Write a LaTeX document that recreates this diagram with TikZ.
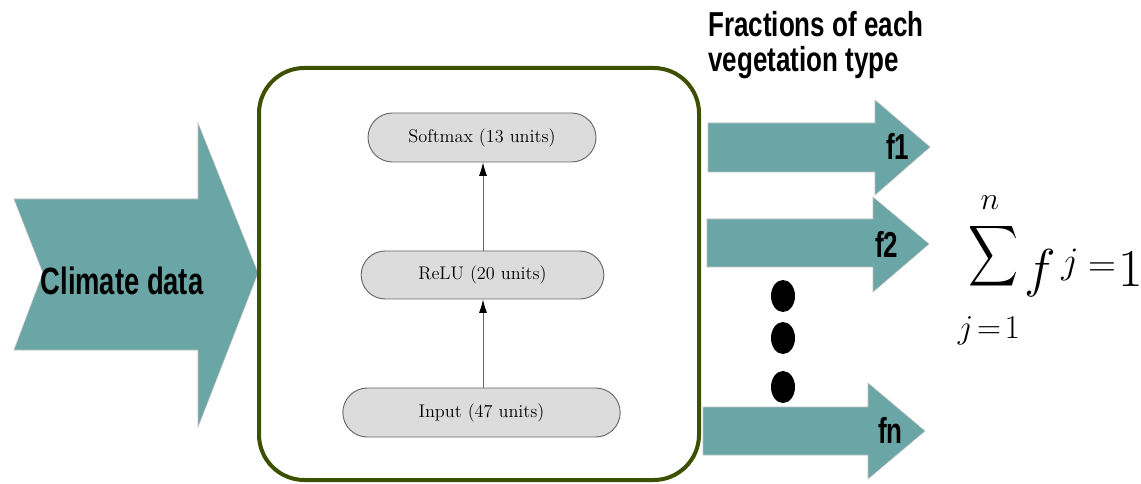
\RequirePackage{fix-cm}
\documentclass[tikz,border=0pt]{standalone}
\usepackage{exscale}
\usepackage{graphicx}
\usepackage{fontspec}
\usetikzlibrary{shapes.misc,arrows.meta}
\newfontfamily\narrowsans[FakeStretch=0.72]{Liberation Sans}
\newfontfamily\titlesans[FakeStretch=0.75]{Liberation Sans}
\definecolor{teal1}{RGB}{106,166,165}
\definecolor{olive1}{RGB}{61,80,0}
\definecolor{layerfill}{RGB}{220,220,220}
\begin{document}
\begin{tikzpicture}[x=0.75pt,y=-0.75pt,
  bigarrow/.style={fill=teal1,draw=gray!50,line width=0.4pt},
  lbl/.style={font=\narrowsans\bfseries\fontsize{27}{30}\selectfont,inner sep=0pt},
  layer/.style={rounded rectangle,fill=layerfill,draw=gray!80!black,line width=0.7pt,
    font=\fontsize{13.7}{16}\selectfont,inner sep=0pt},
  flow/.style={draw=gray!80!black,line width=0.7pt,-{Latex[length=10pt,width=6pt,black]}},
  dot/.style={fill=black,draw=none},
  mth/.style={inner sep=0pt}]
\useasboundingbox (0,0) rectangle (1141,484);
% climate chevron
\draw[bigarrow] (14,199) -- (198,199) -- (198,123) -- (258,273) -- (198,427) -- (198,350) -- (14,350) -- (43,273) -- cycle;
\node[lbl,anchor=base,font=\narrowsans\bfseries\fontsize{28.5}{32}\selectfont] (climate) at (122,295) {Climate data};
% big box
\node[draw=olive1,line width=3pt,rounded corners=34pt,minimum width=330pt,minimum height=309pt,inner sep=0pt] (box) at (479,274) {};
% layers
\node[layer,minimum width=171pt,minimum height=36.75pt] (soft) at (482,137.5) {Softmax (13 units)};
\node[layer,minimum width=182pt,minimum height=36pt] (relu) at (482.5,275) {ReLU (20 units)};
\node[layer,minimum width=208pt,minimum height=36.75pt] (inp) at (481.5,412.5) {Input (47 units)};
\draw[flow] (inp.north -| 483,0) -- (relu.south -| 483,0);
\draw[flow] (relu.north -| 483,0) -- (soft.south -| 483,0);
% output arrows
\draw[bigarrow] (708,123) -- (875,123) -- (875,100) -- (930,147) -- (875,195) -- (875,172) -- (708,172) -- cycle;
\draw[bigarrow] (707,219) -- (873,219) -- (873,197) -- (929,244) -- (873,292) -- (873,267) -- (707,267) -- cycle;
\draw[bigarrow] (703,407) -- (868,407) -- (868,383) -- (925,431) -- (868,479) -- (868,455) -- (703,455) -- cycle;
\node[lbl,anchor=base west] (f1) at (886,160) {f1};
\node[lbl,anchor=base west] (f2) at (875,258) {f2};
\node[lbl,anchor=base west] (fn) at (878,443) {fn};
% dots
\fill[dot] (783,296) ellipse [x radius=12,y radius=16];
\fill[dot] (783,338) ellipse [x radius=12,y radius=16];
\fill[dot] (783,387) ellipse [x radius=12,y radius=16];
% title
\node[lbl,anchor=base west,font=\titlesans\bfseries\fontsize{26}{30}\selectfont] (t1) at (708,37) {Fractions of each};
\node[lbl,anchor=base west,font=\titlesans\bfseries\fontsize{26}{30}\selectfont] (t2) at (708,72) {vegetation type};
% formula
\node[mth] (sigma) at (993,256) {\resizebox*{37.5pt}{51pt}{$\displaystyle\sum$}};
\node[mth,font=\fontsize{24}{28}\selectfont] (sup) at (990,203) {$n$};
\node[mth,anchor=base,font=\fontsize{25}{28}\selectfont] (sub) at (989,339) {$j\!=\!1$};
\node[mth,anchor=base west,font=\fontsize{40}{46}\selectfont] (fj) at (1024,287) {$f$};
\node[mth,anchor=base west,font=\fontsize{28}{32}\selectfont] (jj) at (1061,274) {$j$};
\node[mth,font=\fontsize{29}{32}\selectfont] (eq) at (1102,270) {$=$};
\node[mth,anchor=base west,font=\fontsize{40}{46}\selectfont] (one) at (1118,287) {$1$};
\end{tikzpicture}
\end{document}
